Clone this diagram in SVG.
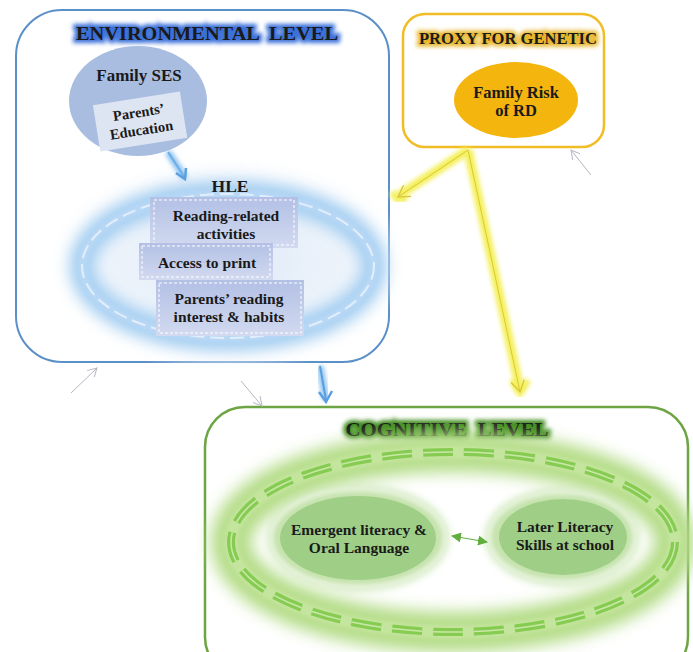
<svg xmlns="http://www.w3.org/2000/svg" width="693" height="652" viewBox="0 0 693 652">
<defs>
<style>
text{font-family:'Liberation Serif','DejaVu Serif',serif}
.t{font-weight:bold;fill:#1a1a1a;text-anchor:middle}
.b{font-size:15.5px}
.ttl{font-size:19px}
.thin{stroke:#b4b8c2;stroke-width:1;fill:none}
</style>
<filter id="blur2" x="-30%" y="-30%" width="160%" height="160%"><feGaussianBlur stdDeviation="2"/></filter>
<filter id="blur4" x="-30%" y="-30%" width="160%" height="160%"><feGaussianBlur stdDeviation="4"/></filter>
<filter id="blur8" x="-30%" y="-30%" width="160%" height="160%"><feGaussianBlur stdDeviation="8"/></filter>
<marker id="thinHead" viewBox="0 0 10 10" refX="9" refY="5" markerWidth="10" markerHeight="10" orient="auto" markerUnits="userSpaceOnUse"><path d="M0,0 L9,5 L0,10" fill="none" stroke="#b4b8c2" stroke-width="1"/></marker>
<marker id="yHead" viewBox="0 0 12 12" refX="10" refY="6" markerWidth="14" markerHeight="14" orient="auto" markerUnits="userSpaceOnUse"><path d="M0,0 L10,6 L0,12" fill="none" stroke="#d9c93a" stroke-width="1.2"/></marker>
<marker id="gHead" viewBox="0 0 10 10" refX="9" refY="5" markerWidth="10" markerHeight="10" orient="auto-start-reverse" markerUnits="userSpaceOnUse"><path d="M0,0 L10,5 L0,10 Z" fill="#5fae3e"/></marker>
<radialGradient id="envGlow" cx="0.5" cy="0.5" r="0.5"><stop offset="0" stop-color="#dfeaf7"/><stop offset="0.7" stop-color="#eef4fb"/><stop offset="1" stop-color="#ffffff" stop-opacity="0"/></radialGradient>
<linearGradient id="boxG" x1="0" y1="0" x2="0" y2="1"><stop offset="0" stop-color="#b3c0e5"/><stop offset="1" stop-color="#d2daf0"/></linearGradient>
</defs>
<rect width="693" height="652" fill="#ffffff"/>

<g id="environmental">
<rect x="16" y="10" width="373" height="352" rx="46" fill="#ffffff" stroke="#5b8fc7" stroke-width="2"/>
<ellipse cx="228" cy="262" rx="180" ry="112" fill="url(#envGlow)"/>
<g id="env-title">
<text class="t ttl" x="207" y="40" textLength="262" lengthAdjust="spacingAndGlyphs" stroke="#3a6fd8" stroke-width="6" fill="#3a6fd8" filter="url(#blur2)" xml:space="preserve">ENVIRONMENTAL  LEVEL</text>
<text class="t ttl" x="207" y="40" textLength="262" lengthAdjust="spacingAndGlyphs" xml:space="preserve">ENVIRONMENTAL  LEVEL</text>
</g>
</g>

<g id="family-ses">
<ellipse cx="138" cy="101" rx="69" ry="55" fill="#a9bde1"/>
<text class="t" x="139" y="81" font-size="17">Family SES</text>
<g transform="rotate(-9 140 121)">
<rect x="96" y="98" width="88" height="47" fill="#dde5f3"/>
<text class="t" x="140" y="117" font-size="14.5">Parents’</text>
<text class="t" x="140" y="135" font-size="14.5">Education</text>
</g>
</g>

<g id="hle">
<ellipse cx="228" cy="266" rx="146" ry="72" fill="none" stroke="#9ccaf0" stroke-width="24" filter="url(#blur8)"/>
<ellipse cx="228" cy="266" rx="146" ry="72" fill="none" stroke="#b7d8f5" stroke-width="10" filter="url(#blur2)"/>
<ellipse cx="228" cy="266" rx="146" ry="72" fill="none" stroke="#e3eefa" stroke-width="2" stroke-dasharray="14 6"/>
<text class="t" x="230" y="192" font-size="17.5">HLE</text>
<g id="reading-activities">
<rect x="150" y="197" width="148" height="51" fill="url(#boxG)"/>
<rect x="154" y="200" width="140" height="45" fill="none" stroke="#ffffff" stroke-width="1" stroke-dasharray="3 2"/>
<text class="t b" x="226" y="221">Reading-related</text>
<text class="t b" x="226" y="239">activities</text>
</g>
<g id="access-print">
<rect x="139" y="243" width="134" height="37" fill="url(#boxG)"/>
<rect x="142" y="246" width="128" height="31" fill="none" stroke="#ffffff" stroke-width="1" stroke-dasharray="3 2"/>
<text class="t b" x="207" y="268">Access to print</text>
</g>
<g id="parents-reading">
<rect x="156" y="280" width="148" height="56" fill="url(#boxG)"/>
<rect x="159" y="283" width="142" height="50" fill="none" stroke="#ffffff" stroke-width="1" stroke-dasharray="3 2"/>
<text class="t b" x="229" y="304">Parents’ reading</text>
<text class="t b" x="229" y="322">interest &amp; habits</text>
</g>
</g>

<g id="proxy-genetic">
<rect x="403" y="14" width="201" height="133" rx="22" fill="#ffffff" stroke="#f0bd24" stroke-width="2.5"/>
<text class="t" x="508" y="44" font-size="16" textLength="178" lengthAdjust="spacingAndGlyphs" stroke="#e7b62a" stroke-width="5" fill="#e7b62a" filter="url(#blur2)">PROXY FOR GENETIC</text>
<text class="t" x="508" y="44" font-size="16" textLength="178" lengthAdjust="spacingAndGlyphs">PROXY FOR GENETIC</text>
</g>

<g id="family-risk">
<ellipse cx="516" cy="100" rx="62" ry="38" fill="#f5b50f"/>
<text class="t" x="516" y="98" font-size="16.5">Family Risk</text>
<text class="t" x="516" y="116" font-size="16.5">of RD</text>
</g>

<g id="cognitive">
<rect x="205" y="407" width="483" height="270" rx="40" fill="#ffffff" stroke="#6ea544" stroke-width="2.5"/>
<text class="t ttl" x="447" y="436" textLength="203" lengthAdjust="spacingAndGlyphs" stroke="#3d8a1e" stroke-width="6" fill="#3d8a1e" filter="url(#blur2)" xml:space="preserve">COGNITIVE  LEVEL</text>
<text class="t ttl" x="447" y="436" textLength="203" lengthAdjust="spacingAndGlyphs" xml:space="preserve">COGNITIVE  LEVEL</text>
<ellipse cx="453" cy="542" rx="222" ry="90" fill="none" stroke="#b3dc86" stroke-width="40" filter="url(#blur8)"/>
<ellipse cx="453" cy="542" rx="222" ry="90" fill="none" stroke="#c4e59e" stroke-width="14" filter="url(#blur2)"/>
<ellipse cx="453" cy="542" rx="222" ry="90" fill="none" stroke="#86cc52" stroke-width="8" stroke-dasharray="30 11"/>
<ellipse cx="453" cy="542" rx="222" ry="90" fill="none" stroke="#c9e8a6" stroke-width="1.5" stroke-dasharray="30 11"/>
</g>

<g id="emergent-literacy">
<ellipse cx="358" cy="538" rx="90" ry="52" fill="#c6e3ae" filter="url(#blur4)"/>
<ellipse cx="358" cy="538" rx="87" ry="49" fill="none" stroke="#eef7e6" stroke-width="3" filter="url(#blur2)"/>
<ellipse cx="358" cy="538" rx="78" ry="42" fill="#9fcf87"/>
<text class="t b" x="359" y="535">Emergent literacy &amp;</text>
<text class="t b" x="359" y="553">Oral Language</text>
</g>

<g id="later-literacy">
<ellipse cx="562" cy="537" rx="76" ry="48" fill="#c6e3ae" filter="url(#blur4)"/>
<ellipse cx="562" cy="537" rx="73" ry="45" fill="none" stroke="#eef7e6" stroke-width="3" filter="url(#blur2)"/>
<ellipse cx="563" cy="537" rx="64" ry="38" fill="#9fcf87"/>
<text class="t b" x="565" y="532">Later Literacy</text>
<text class="t b" x="565" y="550">Skills at school</text>
</g>

<g id="connectors">
<line x1="168" y1="152" x2="185" y2="178" stroke="#8ec3f0" stroke-width="7" filter="url(#blur2)"/>
<line x1="168" y1="152" x2="185" y2="178" stroke="#6aaee8" stroke-width="2"/>
<path d="M176,173 L185,179 L186,168" fill="none" stroke="#5a9fe0" stroke-width="2.5"/>
<line x1="320" y1="366" x2="326" y2="400" stroke="#8ec3f0" stroke-width="7" filter="url(#blur2)"/>
<line x1="320" y1="366" x2="326" y2="400" stroke="#5a9fe0" stroke-width="2"/>
<path d="M319,392 L326,402 L332,391" fill="none" stroke="#5a9fe0" stroke-width="2.5"/>
<line x1="468" y1="150" x2="398" y2="196" stroke="#f4f05a" stroke-width="9" filter="url(#blur2)"/>
<line x1="468" y1="150" x2="520" y2="390" stroke="#f4f05a" stroke-width="9" filter="url(#blur2)"/>
<path d="M392,192 L397,199 L407,198" fill="none" stroke="#f4f05a" stroke-width="7" filter="url(#blur2)"/>
<path d="M512,380 L520,393 L528,380" fill="none" stroke="#f4f05a" stroke-width="7" filter="url(#blur2)"/>
<line x1="468" y1="150" x2="398" y2="197" stroke="#d9c93a" stroke-width="1" marker-end="url(#yHead)"/>
<line x1="468" y1="150" x2="520" y2="392" stroke="#d9c93a" stroke-width="1" marker-end="url(#yHead)"/>
<line class="thin" x1="591" y1="175" x2="571" y2="150" marker-end="url(#thinHead)"/>
<line class="thin" x1="71" y1="393" x2="97" y2="368" marker-end="url(#thinHead)"/>
<line class="thin" x1="241" y1="381" x2="262" y2="406" marker-end="url(#thinHead)"/>
<line x1="452" y1="536" x2="487" y2="542" stroke="#5fae3e" stroke-width="1" marker-start="url(#gHead)" marker-end="url(#gHead)"/>
</g>
</svg>
